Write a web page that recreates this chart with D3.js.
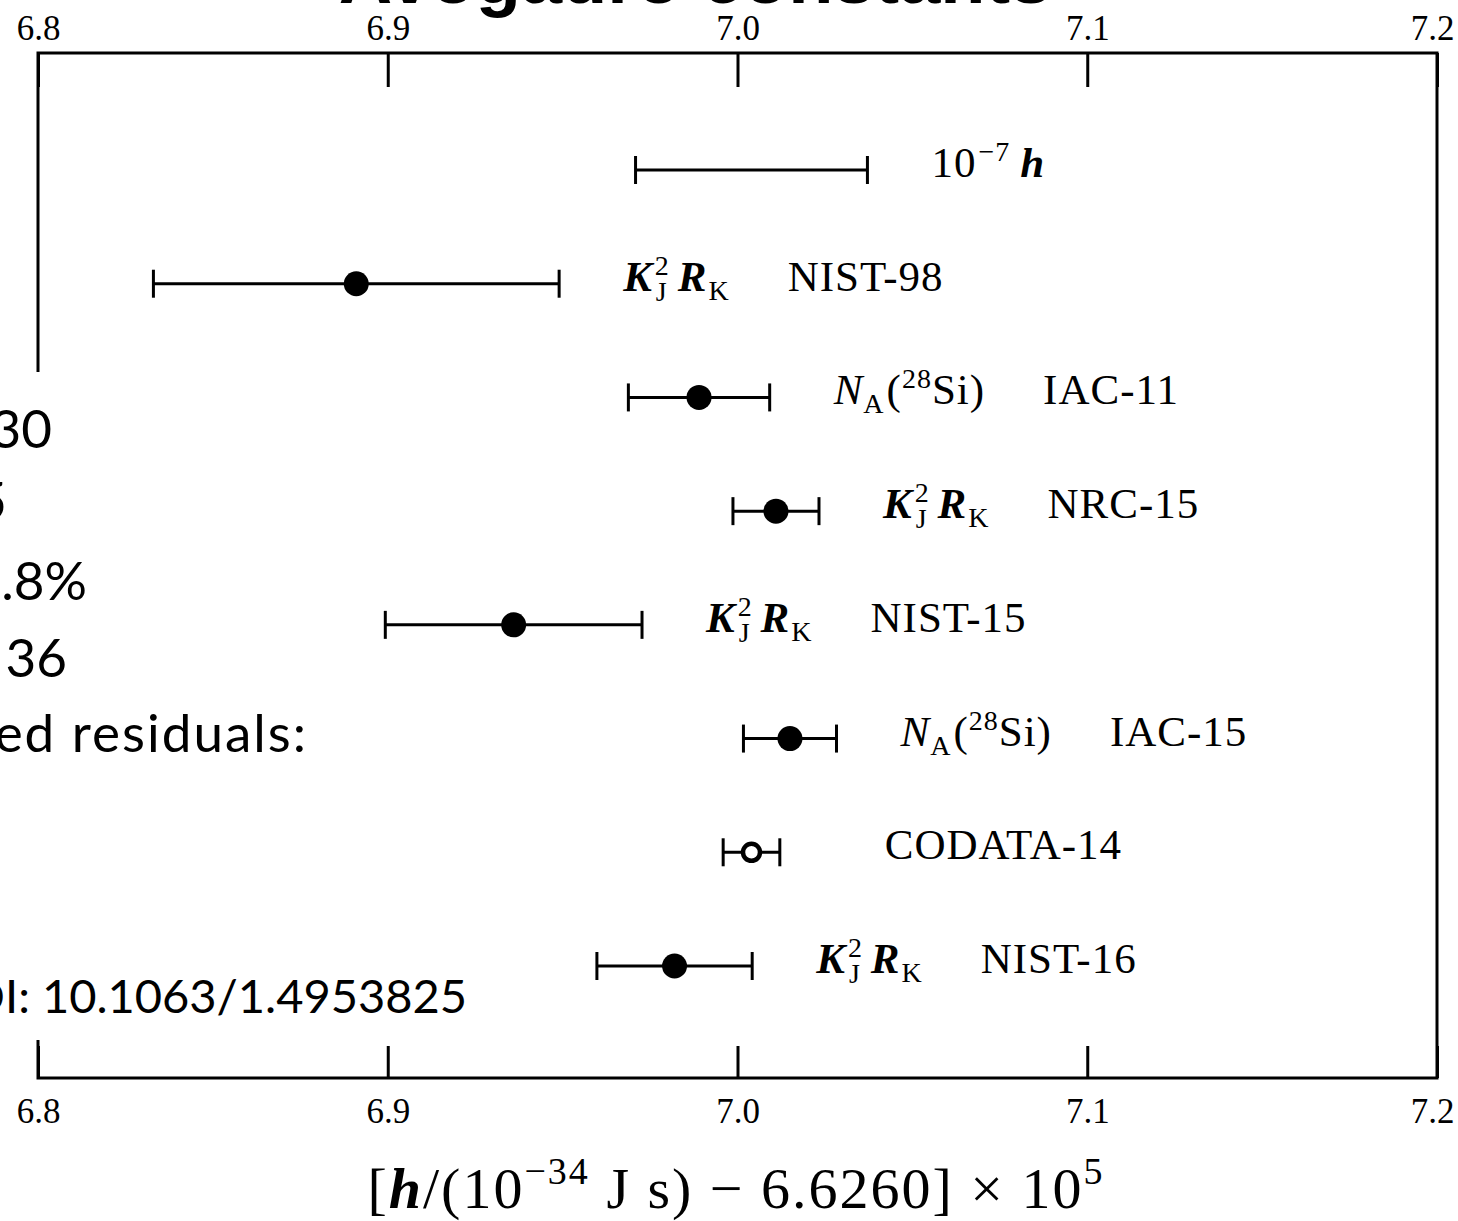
<!DOCTYPE html>
<html>
<head>
<meta charset="utf-8">
<script src="https://cdn.jsdelivr.net/npm/d3@7"></script>
<style>
  body { margin: 0; background: #fff; }
  svg { display: block; }
</style>
</head>
<body>
<svg width="1458" height="1221"></svg>
<script>
// values, in units of [h/(1e-34 J s) - 6.6260] x 1e5
const names   = ["NIST-98", "IAC-11", "NRC-15", "NIST-15", "IAC-15", "CODATA-14", "NIST-16"];
const methods = ["KJR", "NA", "KJR", "KJR", "NA", "", "KJR"];
const values  = [6.891, 6.989, 7.011, 6.936, 7.015, 7.004, 6.982];
const uncert  = [0.058, 0.0202, 0.0123, 0.0367, 0.0133, 0.0081, 0.0222];
const openPoint = ["CODATA-14"];

// reference bar: 1e-7 of h, drawn around the CODATA value
const refCenter = 7.004;
const refWidth = 0.0663;

const tickValues = [6.8, 6.9, 7.0, 7.1, 7.2];

// slide text that sits on top of the chart (clipped by the page edge)
const slideLines = ["30", "5", ".8%", "36", "ed residuals:", "DOI: 10.1063/1.4953825"];
const slideBaselines = [448, 520, 600, 677, 752, 1013];
const slideRight = [52, 7, 87, 67, 308, 467];

const svg = d3.select("svg");
const width = +svg.attr("width");
const height = +svg.attr("height");
const margin = { top: 53, right: 21, bottom: 143, left: 38 };
const serif = "'Liberation Serif', 'Times New Roman', serif";

const x = d3.scaleLinear()
    .domain([6.8, 7.2])
    .range([margin.left, width - margin.right]);

// one row for the reference bar, then one per measurement
const y = d3.scalePoint()
    .domain(["ref"].concat(names))
    .range([170, 966]);

// title of the slide, mostly cut off by the top edge
svg.append("text")
    .attr("x", 695)
    .attr("y", 3)
    .attr("text-anchor", "middle")
    .style("font-family", "'Liberation Sans', Arial, sans-serif")
    .style("font-weight", "bold")
    .style("font-size", "74px")
    .text("Avogadro constants");

// frame
svg.append("rect")
    .attr("x", margin.left)
    .attr("y", margin.top)
    .attr("width", width - margin.left - margin.right)
    .attr("height", height - margin.top - margin.bottom)
    .attr("fill", "none")
    .attr("stroke", "black")
    .attr("stroke-width", 3);

// top and bottom axes, ticks pointing inwards
const topAxis = svg.append("g")
    .attr("transform", `translate(0,${margin.top})`)
    .call(d3.axisTop(x).tickValues(tickValues).tickFormat(d3.format(".1f")).tickSize(-34).tickPadding(13));
const bottomAxis = svg.append("g")
    .attr("transform", `translate(0,${height - margin.bottom})`)
    .call(d3.axisBottom(x).tickValues(tickValues).tickFormat(d3.format(".1f")).tickSize(-32).tickPadding(20));

[topAxis, bottomAxis].forEach(a => {
  a.select(".domain").remove();
  a.selectAll(".tick line").attr("stroke", "black").attr("stroke-width", 3);
  a.selectAll(".tick text")
      .attr("fill", "black")
      .style("font-family", serif)
      .style("font-size", "35px");
});
// the last label sits a little inside the page edge
topAxis.selectAll(".tick text").filter(d => d === 7.2).attr("dx", -5);
bottomAxis.selectAll(".tick text").filter(d => d === 7.2).attr("dx", -5);

// x axis title
const xt = svg.append("text")
    .attr("x", 736)
    .attr("y", 1208)
    .attr("text-anchor", "middle")
    .style("font-family", serif)
    .style("font-size", "58px")
    .style("letter-spacing", "2px");
xt.append("tspan").text("[");
xt.append("tspan").style("font-style", "italic").style("font-weight", "bold").text("h");
xt.append("tspan").text("/(10");
xt.append("tspan").style("font-size", "38px").attr("dy", -24).text("\u221234");
xt.append("tspan").attr("dy", 24).text(" J s) \u2212 6.6260] \u00d7 10");
xt.append("tspan").style("font-size", "38px").attr("dy", -24).text("5");

// white box of the slide text hiding part of the left frame
svg.append("rect")
    .attr("x", 0)
    .attr("y", 372)
    .attr("width", 60)
    .attr("height", 668)
    .attr("fill", "white");

svg.append("g")
    .selectAll("text")
    .data(slideLines)
    .join("text")
    .attr("x", (d, i) => slideRight[i])
    .attr("y", (d, i) => slideBaselines[i])
    .attr("text-anchor", "end")
    .style("font-family", "Lato, 'Open Sans', sans-serif")
    .style("font-size", d => d.startsWith("DOI") ? "47px" : "53px")
    .style("letter-spacing", d => d.startsWith("ed") ? "2px" : "0px")
    .text(d => d);

// error bars
const rows = names.map((n, i) => ({
  name: n, method: methods[i], value: values[i],
  lo: values[i] - uncert[i], hi: values[i] + uncert[i]
}));
const refRow = { name: "ref", lo: refCenter - refWidth / 2, hi: refCenter + refWidth / 2 };
const bars = [refRow].concat(rows);

const g = svg.append("g").attr("stroke", "black").attr("stroke-width", 3);
g.selectAll(".bar")
    .data(bars)
    .join("line")
    .attr("x1", d => x(d.lo))
    .attr("x2", d => x(d.hi))
    .attr("y1", d => y(d.name))
    .attr("y2", d => y(d.name));
g.selectAll(".capl")
    .data(bars)
    .join("line")
    .attr("x1", d => x(d.lo))
    .attr("x2", d => x(d.lo))
    .attr("y1", d => y(d.name) - 14)
    .attr("y2", d => y(d.name) + 14);
g.selectAll(".capr")
    .data(bars)
    .join("line")
    .attr("x1", d => x(d.hi))
    .attr("x2", d => x(d.hi))
    .attr("y1", d => y(d.name) - 14)
    .attr("y2", d => y(d.name) + 14);

svg.append("g")
    .selectAll("circle")
    .data(rows)
    .join("circle")
    .attr("cx", d => x(d.value))
    .attr("cy", d => y(d.name))
    .attr("r", d => openPoint.includes(d.name) ? 8.5 : 12.5)
    .attr("fill", d => openPoint.includes(d.name) ? "white" : "black")
    .attr("stroke", "black")
    .attr("stroke-width", d => openPoint.includes(d.name) ? 4.5 : 0);

// labels: method in math style, then the experiment name
function mathText(t, kind) {
  const small = "28px";
  if (kind === "KJR") {
    t.append("tspan").style("font-style", "italic").style("font-weight", "bold").text("K");
    t.append("tspan").style("font-size", small).attr("dx", 2).attr("dy", -16).text("2");
    t.append("tspan").style("font-size", small).attr("dx", -14).attr("dy", 26).text("J");
    t.append("tspan").style("font-style", "italic").style("font-weight", "bold").attr("dx", 10).attr("dy", -10).text("R");
    t.append("tspan").style("font-size", small).attr("dx", 1).attr("dy", 9).text("K");
  } else if (kind === "NA") {
    t.append("tspan").style("font-style", "italic").text("N");
    t.append("tspan").style("font-size", small).attr("dy", 9).text("A");
    t.append("tspan").attr("dx", 2).attr("dy", -9).text("(");
    t.append("tspan").style("font-size", small).attr("dy", -16).text("28");
    t.append("tspan").attr("dy", 16).text("Si)");
  } else if (kind === "ref") {
    t.append("tspan").text("10");
    t.append("tspan").style("font-size", small).attr("dx", 2).attr("dy", -16).text("\u22127");
    t.append("tspan").style("font-style", "italic").style("font-weight", "bold").attr("dx", 10).attr("dy", 16).text("h");
  }
}

const labels = svg.append("g")
    .style("font-family", serif)
    .style("font-size", "43px")
    .style("letter-spacing", "1px");

bars.forEach(d => {
  const by = y(d.name) + 7;
  const kind = d.name === "ref" ? "ref" : d.method;
  let nameX = x(d.hi) + 105;
  if (kind) {
    const t = labels.append("text").attr("x", x(d.hi) + 64).attr("y", by);
    mathText(t, kind);
    const bb = t.node().getBBox();
    nameX = bb.x + bb.width + 58;
  }
  if (d.name !== "ref") {
    labels.append("text").attr("x", nameX).attr("y", by).text(d.name);
  }
});
</script>
</body>
</html>
